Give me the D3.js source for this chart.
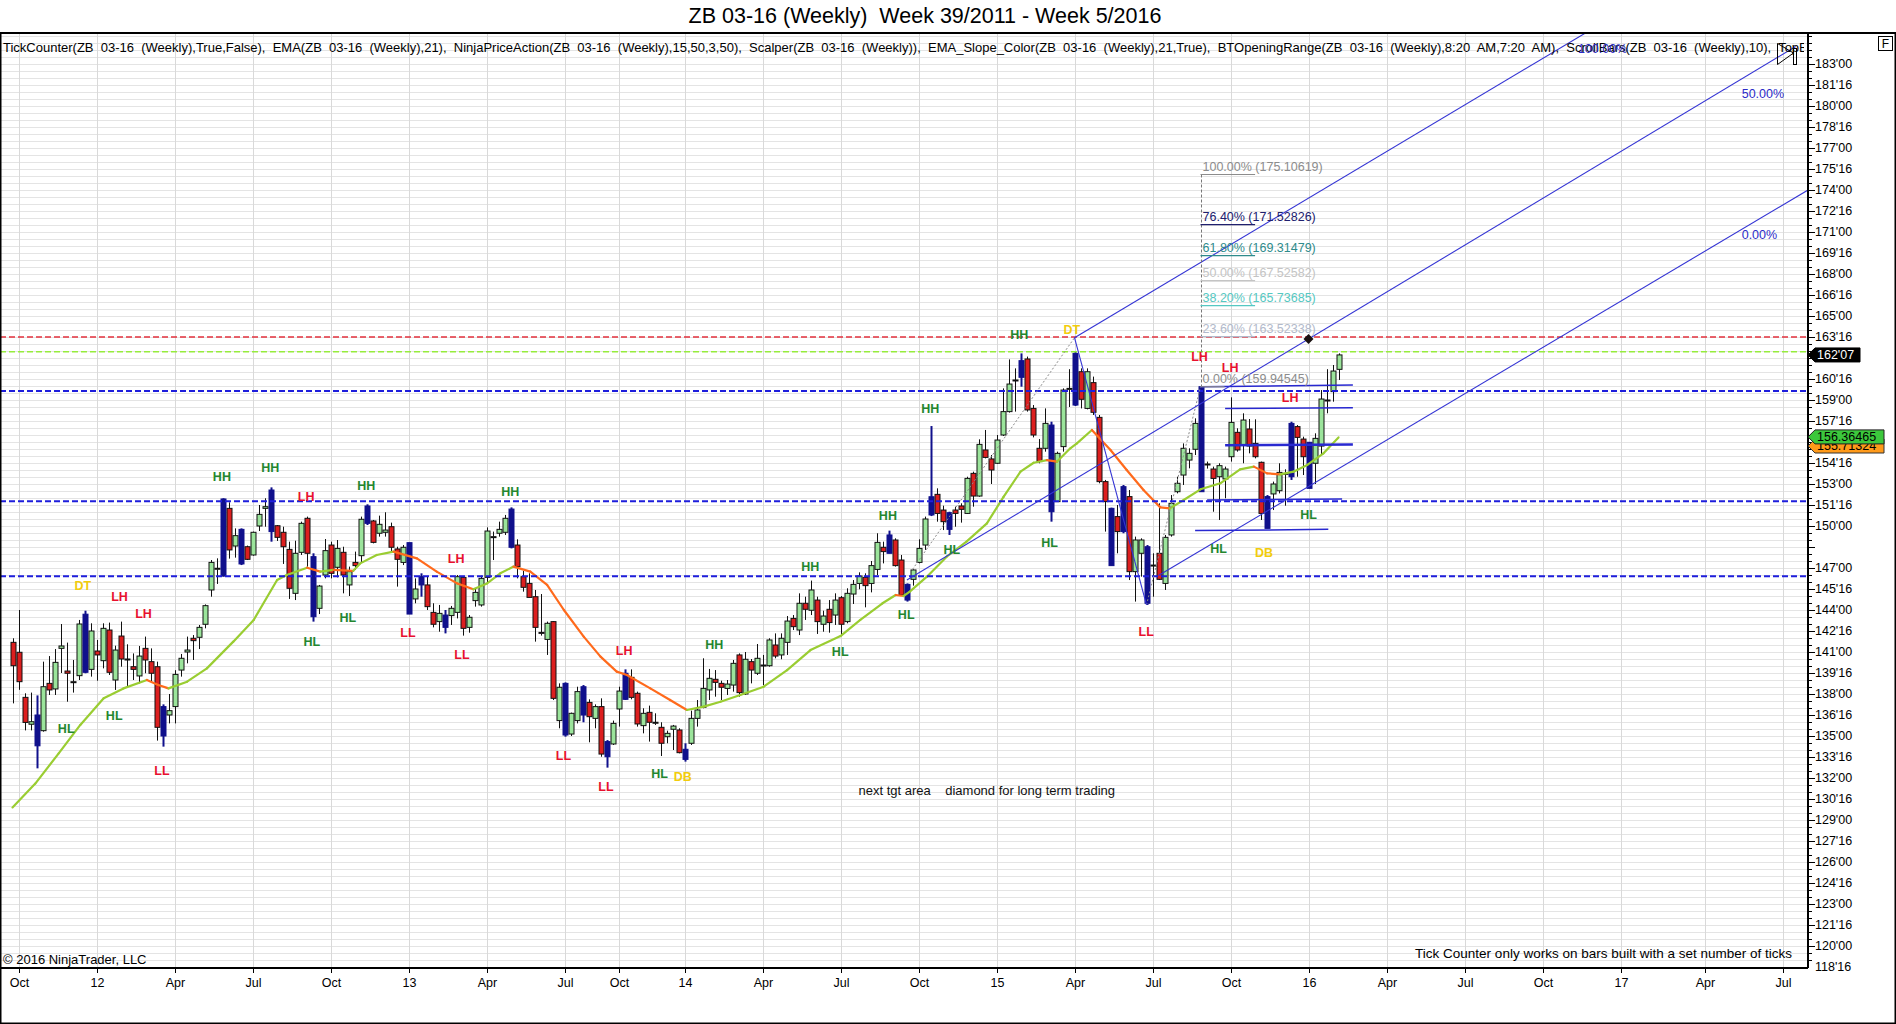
<!DOCTYPE html>
<html><head><meta charset="utf-8">
<script src="https://cdn.jsdelivr.net/npm/d3@7/dist/d3.min.js"></script>
<style>
html,body{margin:0;padding:0;background:#fff;}
svg{display:block;font-family:"Liberation Sans",Arial,sans-serif;}
.pre{white-space:pre;}
</style></head><body>
<svg id="c" width="1896" height="1024"></svg>
<script>
// ---------------- DATA ----------------
const opens=[141.69,140.98,137.76,135.84,136.5,135.38,138.76,138.36,141.26,139.64,138.88,139.31,143.7,139.76,141.07,140.38,142.57,139.0,142.14,140.5,139.95,139.29,141.26,140.31,139.95,137.1,136.5,137.1,139.71,141.0,141.98,142.05,142.98,145.43,146.98,146.43,151.26,148.57,149.76,148.52,147.93,150.0,151.26,152.57,150.02,149.55,148.33,145.19,148.12,150.55,147.81,144.12,146.5,148.64,147.05,148.12,145.79,147.4,147.88,151.43,150.36,149.48,149.55,149.95,148.36,147.4,148.81,144.79,146.38,145.79,143.83,143.17,143.64,143.6,143.83,146.33,142.76,144.67,144.36,146.33,149.24,149.48,149.55,151.21,148.64,146.38,145.9,144.95,142.4,141.9,143.17,136.1,138.76,135.14,136.1,138.52,137.4,136.26,137.1,134.6,134.43,136.93,139.48,139.19,138.05,135.74,136.69,135.98,135.62,134.95,135.48,135.43,134.05,134.48,136.26,137.05,138.29,139.05,138.76,138.4,138.64,140.79,138.0,140.31,139.48,140.07,140.02,141.5,140.79,141.69,143.4,142.57,144.48,143.98,144.71,142.98,144.05,143.64,144.88,143.17,145.14,145.9,146.33,145.9,146.9,148.48,149.36,149.0,147.57,145.83,146.19,147.4,148.64,152.09,152.26,151.14,150.95,151.14,151.43,150.9,153.76,152.14,155.43,154.79,154.48,156.5,158.17,160.43,161.81,161.93,158.4,155.55,155.55,157.21,151.74,155.67,159.83,162.33,161.02,158.4,160.24,157.76,153.17,151.26,150.67,152.81,152.1,146.74,148.05,148.52,147.21,148.05,145.9,149.36,152.45,153.64,154.71,155.48,159.95,154.43,154.07,153.52,153.36,154.95,156.69,155.79,156.93,155.9,154.55,152.1,152.29,152.52,153.76,157.33,157.1,156.21,155.98,154.48,155.71,158.93,159.6,161.19];
const highs=[141.98,144.0,138.05,138.1,137.9,140.31,140.71,141.21,143.0,141.67,140.43,143.29,143.95,143.05,141.86,143.05,143.1,141.45,143.17,141.55,140.9,141.43,142.1,141.26,140.31,137.26,138.0,139.7,140.86,142.1,142.21,142.93,144.4,147.57,147.69,151.98,151.69,149.83,149.83,148.6,149.6,151.5,151.98,152.76,150.07,149.95,148.88,148.95,150.31,150.67,148.05,145.79,149.07,148.88,149.0,148.52,147.1,148.17,150.67,151.55,150.43,150.74,150.98,150.24,148.52,148.64,148.81,146.26,146.62,146.38,144.48,144.36,144.0,144.29,146.5,146.43,143.64,145.5,146.45,149.9,149.6,150.31,150.79,151.33,149.05,146.79,146.62,145.43,145.14,143.17,143.21,138.76,138.83,136.67,138.52,138.64,137.62,137.26,137.69,134.71,136.1,138.52,139.76,139.76,138.17,136.98,137.17,136.62,135.98,135.38,135.79,135.55,134.48,136.81,137.57,140.55,139.79,139.71,138.95,139.0,140.43,140.9,141.0,140.5,141.57,140.79,141.98,142.33,142.33,143.57,143.64,145.19,144.95,146.1,144.95,143.95,144.71,145.19,145.0,145.55,146.14,146.69,146.62,147.5,149.48,148.88,149.67,149.12,147.93,145.9,146.9,149.05,150.67,157.14,152.69,151.45,151.02,151.38,151.62,153.52,153.88,156.19,156.86,155.07,156.5,159.83,161.9,161.26,162.33,162.1,158.64,156.21,158.4,157.45,155.31,159.83,161.2,162.5,161.26,161.26,160.67,157.93,153.29,151.31,151.5,152.93,152.57,149.24,149.12,148.64,148.05,151.62,149.36,152.21,153.52,155.9,155.55,157.69,159.95,154.6,154.24,154.48,154.24,159.19,156.98,158.05,157.64,157.62,154.6,152.21,153.17,154.48,154.05,157.45,157.21,156.38,156.0,156.62,159.71,161.2,161.5,162.33];
const lows=[137.33,138.3,135.4,135.4,132.69,135.31,137.93,137.93,139.5,137.45,138.1,139.0,139.48,139.24,138.95,139.83,139.36,138.29,139.95,138.5,139.0,138.76,139.48,138.81,134.67,134.24,135.9,135.9,139.24,140.19,140.43,141.21,142.69,144.95,145.86,146.38,147.67,147.74,147.21,147.57,147.88,149.64,149.95,148.88,148.93,147.29,144.79,144.71,147.93,147.09,143.17,143.71,146.26,146.26,146.33,145.19,145.0,146.86,147.4,150.07,148.76,149.24,149.24,148.17,145.67,147.21,143.71,144.48,144.95,144.0,142.76,142.45,142.33,142.93,143.4,142.17,142.38,144.24,144.24,145.9,147.57,149.24,149.36,148.4,146.26,145.31,144.9,141.74,142.17,140.79,137.57,135.55,134.95,135.0,135.9,135.98,134.55,135.55,133.52,132.74,134.36,135.67,137.57,137.62,135.67,135.19,134.6,135.79,133.57,134.48,134.0,133.76,133.17,134.36,135.67,136.98,137.57,137.81,137.57,137.93,138.17,137.81,137.93,138.76,139.36,138.64,139.95,140.55,140.48,140.79,142.57,142.21,143.29,143.64,142.29,142.45,142.38,142.93,142.14,143.05,144.43,145.48,144.19,145.26,146.5,147.33,148.05,147.1,145.0,144.6,145.74,147.33,148.29,150.71,150.31,149.71,149.36,149.95,150.24,150.86,151.38,152.09,154.83,153.0,154.43,156.43,158.1,158.17,159.95,158.17,156.33,154.48,155.31,150.31,151.74,155.31,158.5,158.57,158.4,158.33,157.93,153.05,149.6,147.17,148.05,149.48,146.14,144.6,146.38,144.36,144.95,146.14,145.43,149.24,152.33,152.93,154.12,155.07,152.45,154.1,151.02,150.43,151.98,154.6,155.31,154.48,155.19,154.83,150.43,149.83,151.14,152.33,151.45,153.29,153.52,153.64,152.69,153.0,155.07,158.05,158.88,160.43];
const closes=[140.02,138.88,135.97,136.02,134.3,138.52,138.29,140.26,141.43,139.48,138.88,143.0,139.55,142.5,140.79,142.69,139.55,141.14,140.5,140.5,139.76,140.71,140.43,139.48,135.62,135.0,136.81,139.4,140.55,141.14,141.81,142.76,144.31,147.4,146.98,151.93,148.29,149.31,147.29,147.62,149.55,150.83,151.38,149.6,149.19,148.52,145.55,148.05,150.19,148.05,143.52,145.71,148.24,146.62,148.4,146.5,146.74,147.17,150.48,150.19,148.83,150.12,149.71,148.48,147.62,148.48,143.71,145.5,145.79,144.24,142.98,143.76,142.76,144.12,146.38,142.69,143.48,145.26,146.26,149.64,149.24,149.76,150.55,148.48,147.1,145.62,144.9,142.76,142.4,143.05,137.69,138.48,135.07,136.62,138.17,136.5,136.38,137.1,133.71,133.52,135.9,138.21,137.62,137.76,135.86,136.62,135.98,135.98,134.48,135.19,135.71,133.81,133.33,136.26,136.86,138.4,139.12,138.83,138.48,138.71,140.19,138.1,140.48,139.71,140.55,140.07,141.86,140.71,141.98,143.21,142.81,144.48,144.05,145.43,143.17,143.57,143.1,144.71,142.98,145.19,145.83,146.43,145.74,147.17,148.83,148.17,148.05,147.17,145.07,144.71,146.86,148.4,150.5,150.79,150.9,150.31,149.76,150.9,151.19,153.4,152.14,155.83,154.9,154.0,156.14,158.17,160.14,160.43,160.62,158.29,156.5,154.6,157.33,151.02,155.19,159.71,159.83,158.64,159.05,161.02,158.12,153.17,151.74,147.17,149.6,149.6,146.74,149.0,149.0,144.48,147.21,146.19,149.19,151.62,153.05,155.55,155.19,157.33,152.45,154.43,153.4,154.31,154.07,157.4,155.43,157.57,155.71,154.95,150.9,149.83,153.0,153.83,153.76,153.52,156.33,154.95,152.69,156.26,159.07,159.0,161.07,162.22];
const blueBars=[4,12,25,35,38,43,50,59,66,68,72,83,92,95,99,102,112,146,149,153,156,168,173,177,183,185,189,198,209,213,216];

const emaIdx=[0,3.8,7.7,11.3,15.2,18.5,22.4,24.3,26,29.1,32.4,36.8,40.2,44.1,45.7,49.1,51.3,53.5,56.8,57.95,60.7,63.5,67.4,70.7,74.1,76.8,79.1,81.3,83.5,86.3,89.1,91.9,95.2,98,100.7,102.4,106.3,109.6,112.4,115.2,118,121.3,125.2,129.1,133,138,141.3,145,147.2,148.5,149.5,152.4,155.7,159,162.4,165.2,168,170.2,172.4,174.1,176.3,177.4,179.9,183,185.7,188.5,191.3,192.9,195.2,198,201.3,204.6,206.9,209.1,211.3,213.5,215.8,218.5,221];
const emaVal=[129.9,131.6,133.76,135.79,137.69,138.4,139.0,138.64,138.4,138.88,139.83,141.74,143.29,146.14,146.5,147.02,146.74,146.86,146.8,147.33,147.93,148.17,147.69,146.74,145.9,145.48,145.9,146.62,147.1,146.74,145.79,144.0,142.1,140.67,139.6,139.36,138.4,137.57,136.86,137.1,137.45,137.93,138.52,139.71,141.14,142.14,143.29,144.48,145.07,145.0,145.3,146.38,147.81,148.88,150.19,152.1,153.88,154.52,154.71,154.6,155.55,155.9,156.86,155.43,154.0,152.57,151.33,151.26,151.86,152.62,153.05,154.05,154.24,153.76,153.69,153.88,154.36,155.19,156.33];

const xTickIdx=[1,14,27,40,53,66,79,92,101,112,125,138,151,164,177,190,203,216,229,242,255,268,282,295];
const xTickLabels=["Oct","12","Apr","Jul","Oct","13","Apr","Jul","Oct","14","Apr","Jul","Oct","15","Apr","Jul","Oct","16","Apr","Jul","Oct","17","Apr","Jul"];
const yTickValues=[183,181.5,180,178.5,177,175.5,174,172.5,171,169.5,168,166.5,165,163.5,160.5,159,157.5,154.5,153,151.5,150,147,145.5,144,142.5,141,139.5,138,136.5,135,133.5,132,130.5,129,127.5,126,124.5,123,121.5,120,118.5];

const dashPrices=[163.5,162.45,159.64,151.76,146.41];
const dashColors=["#E2303C","#96EC3C","#1E1EDC","#1E1EDC","#1E1EDC"];
const dashWidths=[1.5,1.5,2,2,2];

const paText=["HH","HH","LH","DT","LH","LH","HL","HL","LL","HL","HL","HH","HH","LH","LL","LL","LH","LL","LL","HL","DB","HH","HH","HL","HH","HL","HH","HL","HL","HH","DT","LL","LH","LH","LH","HL","DB","HL"];
const paIdx=[34.9,42.95,48.95,11.73,17.83,21.83,8.95,16.95,24.9,49.9,55.9,58.95,82.95,73.95,65.9,74.9,101.95,91.83,98.9,107.83,111.73,116.95,132.95,137.95,145.9,148.95,152.95,156.57,172.83,167.78,176.57,188.95,197.83,202.95,212.95,201,208.6,216];
const paPrice=[153.52,154.12,152.09,145.71,144.95,143.71,135.48,136.45,132.52,141.74,143.41,152.88,152.45,147.62,142.34,140.79,141.07,133.59,131.38,132.29,132.09,141.5,147.09,140.98,150.71,143.64,158.34,148.29,148.76,163.64,164.0,142.45,162.09,161.26,159.16,148.36,148.05,150.79];

// pitchfork & trend lines: [startIdx, startPrice, endIdx, endPrice]
const forkUpper=[177,163.45,262.5,185.3];
const forkMedian=[149.07,146.14,297.2,184.25];
const forkLower=[191,146.46,299.25,174.0];
const forkHandle=[177,163.45,189,144.36];
const dottedLines=[[150,146.9,177,163.45],[189,144.36,198,159.95]];
const forkLabels=["100.00%","50.00%","0.00%"];
const forkLabelIdx=[260.9,288.2,288.2];
const forkLabelPrice=[183.79,180.6,170.5];

// opening-range style horizontal segments
const rangeSegs=[[198,159.95,223.4,160.07],[202.1,158.4,223.4,158.45],[202.1,155.76,223.4,155.83],[199.1,151.86,221.6,151.93],[197.1,149.67,219.3,149.76]];
const rangeWidths=[1.5,1.5,2.5,1.5,1.5];

// Fibonacci retracement
const fibAnchorIdx=198;
const fibPct=["100.00%","76.40%","61.80%","50.00%","38.20%","23.60%","0.00%"];
const fibPrice=[175.10619,171.52826,169.31479,167.52582,165.73685,163.52338,159.94545];
const fibColor=["#8C8C8C","#20206E","#2E8B8B","#C4C4C4","#55C8C2","#B2BACB","#8C8C8C"];
const fibEndIdx=[207.1,207.1,207.1,207.1,207.1,207.1,202];

const diamond=[216,163.36];
const lastPrice=162.21875;
const emaLast=156.36465;
const orangeLast=155.71324;
const noteIdx=141.0, notePrice=130.8;

// ---------------- CHART ----------------
const svg=d3.select("#c");
const W=1896,H=1024, plotL=0, plotR=1808, plotT=33, plotB=968;
const x=d3.scaleLinear().domain([0,1]).range([12.5,18.5]);
const y=d3.scaleLinear().domain([165,159]).range([316,400]);

svg.append("rect").attr("width",W).attr("height",H).attr("fill","#fff");
const defs=svg.append("defs");
defs.append("clipPath").attr("id","pc").append("rect")
  .attr("x",plotL).attr("y",plotT).attr("width",plotR-plotL).attr("height",plotB-plotT);
defs.append("clipPath").attr("id","tc").append("rect").attr("x",0).attr("y",34).attr("width",plotR-4).attr("height",30);

const grid=svg.append("g").attr("clip-path","url(#pc)");
const gridPrices=d3.range(118.5,185.6,0.5);
grid.selectAll("line.h").data(gridPrices).join("line")
  .attr("x1",plotL).attr("x2",plotR)
  .attr("y1",d=>Math.round(y(d))+0.5).attr("y2",d=>Math.round(y(d))+0.5)
  .attr("stroke","#E4E4E4").attr("stroke-width",1);
grid.selectAll("line.v").data(xTickIdx).join("line")
  .attr("x1",d=>Math.round(x(d))+0.5).attr("x2",d=>Math.round(x(d))+0.5)
  .attr("y1",plotT).attr("y2",plotB)
  .attr("stroke","#D9D9D9").attr("stroke-width",1);

const P=svg.append("g").attr("clip-path","url(#pc)");

// candles
const idx=d3.range(opens.length);
const blue=new Set(blueBars);
const cx=i=>Math.round(x(i))+0.5;
P.selectAll("line.wick").data(idx).join("line")
  .attr("x1",cx).attr("x2",cx)
  .attr("y1",i=>y(highs[i])).attr("y2",i=>y(lows[i]))
  .attr("stroke",i=>blue.has(i)?"#10108C":"#111")
  .attr("stroke-width",i=>blue.has(i)?2:1);
P.selectAll("rect.body").data(idx).join("rect")
  .attr("x",i=>cx(i)-2.5).attr("width",5)
  .attr("y",i=>y(Math.max(opens[i],closes[i])))
  .attr("height",i=>Math.max(1,Math.abs(y(opens[i])-y(closes[i]))))
  .attr("fill",i=>blue.has(i)?"#10108C":(closes[i]>opens[i]?"#9BE49B":(closes[i]<opens[i]?"#DC1F1F":"#fff")))
  .attr("stroke",i=>blue.has(i)?"#10108C":"#111").attr("stroke-width",1);

// EMA coloured by slope
const emaPts=emaIdx.map((d,k)=>[d,emaVal[k]]);
const segs=d3.pairs(emaPts);
P.selectAll("line.ema").data(segs).join("line")
  .attr("x1",s=>x(s[0][0])).attr("y1",s=>y(s[0][1]))
  .attr("x2",s=>x(s[1][0])).attr("y2",s=>y(s[1][1]))
  .attr("stroke",s=>s[1][1]<s[0][1]?"#FF6A1C":"#9ACD32")
  .attr("stroke-width",2.2).attr("stroke-linecap","round");

// dashed horizontal lines
P.selectAll("line.dash").data(dashPrices).join("line")
  .attr("x1",plotL).attr("x2",plotR)
  .attr("y1",d=>y(d)).attr("y2",d=>y(d))
  .attr("stroke",(d,k)=>dashColors[k]).attr("stroke-width",(d,k)=>dashWidths[k])
  .attr("stroke-dasharray","6,3");

// range segments
P.selectAll("line.rng").data(rangeSegs).join("line")
  .attr("x1",s=>x(s[0])).attr("y1",s=>y(s[1])).attr("x2",s=>x(s[2])).attr("y2",s=>y(s[3]))
  .attr("stroke","#2828D0").attr("stroke-width",(s,k)=>rangeWidths[k]);

// dotted trend lines
P.selectAll("line.dot").data(dottedLines).join("line")
  .attr("x1",s=>x(s[0])).attr("y1",s=>y(s[1])).attr("x2",s=>x(s[2])).attr("y2",s=>y(s[3]))
  .attr("stroke","#8A8A8A").attr("stroke-width",1).attr("stroke-dasharray","2,2");

// pitchfork
P.selectAll("line.fork").data([forkUpper,forkMedian,forkLower,forkHandle]).join("line")
  .attr("x1",s=>x(s[0])).attr("y1",s=>y(s[1])).attr("x2",s=>x(s[2])).attr("y2",s=>y(s[3]))
  .attr("stroke","#3434D4").attr("stroke-width",1.1);

// Fibonacci
P.append("line").attr("x1",cx(fibAnchorIdx)).attr("x2",cx(fibAnchorIdx))
  .attr("y1",y(fibPrice[0])).attr("y2",y(fibPrice[6]))
  .attr("stroke","#777").attr("stroke-dasharray","3,2").attr("stroke-width",1);
P.selectAll("line.fib").data(fibPrice).join("line")
  .attr("x1",x(fibAnchorIdx)).attr("x2",(d,k)=>x(fibEndIdx[k]))
  .attr("y1",d=>y(d)).attr("y2",d=>y(d))
  .attr("stroke",(d,k)=>fibColor[k]).attr("stroke-width",1.2);
P.selectAll("text.fib").data(fibPrice).join("text")
  .attr("x",x(fibAnchorIdx)+2).attr("y",d=>y(d)-4)
  .attr("font-size",12.5).attr("fill",(d,k)=>fibColor[k])
  .text((d,k)=>fibPct[k]+" ("+d.toFixed(5)+")");

// diamond
const dx=x(diamond[0]), dy=y(diamond[1]);
P.append("path").attr("d",`M${dx},${dy-5}L${dx+5},${dy}L${dx},${dy+5}L${dx-5},${dy}Z`).attr("fill","#1a1010");

// price action labels
const paColor=t=>(t==="HH"||t==="HL")?"#23862F":(t==="LH"||t==="LL")?"#E8102E":"#F2CC0C";
P.selectAll("text.pa").data(paText).join("text")
  .attr("x",(d,k)=>x(paIdx[k])).attr("y",(d,k)=>y(paPrice[k]))
  .attr("text-anchor","middle").attr("dominant-baseline","central")
  .attr("font-size",12.5).attr("font-weight","bold")
  .attr("fill",d=>paColor(d)).text(d=>d);

// note
P.append("text").attr("class","pre").attr("x",x(noteIdx)).attr("y",y(notePrice))
  .attr("font-size",13).attr("fill","#111").text("next tgt area    diamond for long term trading");

// frame and axes
svg.append("line").attr("x1",0).attr("x2",W).attr("y1",plotT).attr("y2",plotT).attr("stroke","#000").attr("stroke-width",2);
svg.append("line").attr("x1",0).attr("x2",plotR).attr("y1",plotB).attr("y2",plotB).attr("stroke","#000").attr("stroke-width",2);
svg.append("line").attr("x1",plotR).attr("x2",plotR).attr("y1",plotT).attr("y2",plotB).attr("stroke","#000").attr("stroke-width",2);
svg.append("rect").attr("x",0.75).attr("y",plotT).attr("width",W-1.5).attr("height",H-plotT-0.75).attr("fill","none").attr("stroke","#000").attr("stroke-width",1.5);

// right axis
const ax=svg.append("g");
const labelled=new Set(yTickValues.concat([162,156,148.5]));
ax.selectAll("line.t").data(gridPrices.filter(p=>y(p)>plotT+2&&y(p)<plotB-1)).join("line")
  .attr("x1",plotR).attr("x2",d=>plotR+(labelled.has(d)?7:4))
  .attr("y1",d=>Math.round(y(d))+0.5).attr("y2",d=>Math.round(y(d))+0.5)
  .attr("stroke","#000");
const fmt=p=>{const f=Math.floor(p+1e-9);return f+"'"+String(Math.round((p-f)*32)).padStart(2,"0");};
ax.selectAll("text.yl").data(yTickValues).join("text")
  .attr("x",plotR+7).attr("y",d=>y(d)).attr("dominant-baseline","central")
  .attr("font-size",12.5).attr("fill","#000").text(d=>fmt(d));

// x axis
ax.selectAll("line.xt").data(xTickIdx).join("line")
  .attr("x1",d=>cx(d)).attr("x2",d=>cx(d)).attr("y1",plotB).attr("y2",plotB+5).attr("stroke","#000");
ax.selectAll("text.xl").data(xTickLabels).join("text")
  .attr("x",(d,k)=>cx(xTickIdx[k])).attr("y",987).attr("text-anchor","middle")
  .attr("font-size",12.5).attr("fill","#000").text(d=>d);

// price markers
function marker(p,fill,stroke,txt,tcol,x2){
  const yy=y(p);
  ax.append("path").attr("d",`M${plotR},${yy}L${plotR+7},${yy-7}L${x2},${yy-7}L${x2},${yy+7}L${plotR+7},${yy+7}Z`)
    .attr("fill",fill).attr("stroke",stroke).attr("stroke-width",1);
  ax.append("text").attr("x",plotR+9).attr("y",yy).attr("dominant-baseline","central")
    .attr("font-size",12.5).attr("fill",tcol).text(txt);
}
marker(orangeLast,"#FF9A1A","#333",orangeLast.toFixed(5),"#000",1884);
marker(emaLast,"#3CC83C","#222",emaLast.toFixed(5),"#000",1884);
marker(lastPrice,"#000","#000",fmt(lastPrice),"#fff",1860);

// top texts
svg.append("text").attr("class","pre").attr("x",925).attr("y",23).attr("text-anchor","middle")
  .attr("font-size",21.5).attr("fill","#000").text("ZB 03-16 (Weekly)  Week 39/2011 - Week 5/2016");
svg.append("text").attr("class","pre").attr("clip-path","url(#tc)").attr("x",3).attr("y",52)
  .attr("font-size",13).attr("fill","#000")
  .text("TickCounter(ZB  03-16  (Weekly),True,False),  EMA(ZB  03-16  (Weekly),21),  NinjaPriceAction(ZB  03-16  (Weekly),15,50,3,50),  Scalper(ZB  03-16  (Weekly)),  EMA_Slope_Color(ZB  03-16  (Weekly),21,True),  BTOpeningRange(ZB  03-16  (Weekly),8:20  AM,7:20  AM),  ScrollBars(ZB  03-16  (Weekly),10),  TopBottom");
// pitchfork level labels (drawn above header text, as in the reference)
svg.append("g").attr("clip-path","url(#pc)").selectAll("text.fork").data(forkLabels).join("text")
  .attr("x",(d,k)=>x(forkLabelIdx[k])).attr("y",(d,k)=>y(forkLabelPrice[k]))
  .attr("font-size",12.5).attr("fill","#2B2BC8").text(d=>d);
svg.append("text").attr("x",3).attr("y",964).attr("font-size",13).attr("fill","#000").text("© 2016 NinjaTrader, LLC");
svg.append("text").attr("x",1792).attr("y",958).attr("text-anchor","end").attr("font-size",13.5).attr("fill","#000")
  .text("Tick Counter only works on bars built with a set number of ticks");

// corner widgets
svg.append("path").attr("d","M1777.5,43.5L1777.5,64.5L1793.5,53Z").attr("fill","none").attr("stroke","#000");
svg.append("rect").attr("x",1793.5).attr("y",48.5).attr("width",3).attr("height",16).attr("fill","none").attr("stroke","#000");
svg.append("rect").attr("x",1878.5).attr("y",36.5).attr("width",14).attr("height",14).attr("fill","#fff").attr("stroke","#000");
svg.append("text").attr("x",1885.5).attr("y",44).attr("text-anchor","middle").attr("dominant-baseline","central").attr("font-size",12).text("F");
</script>
</body></html>
